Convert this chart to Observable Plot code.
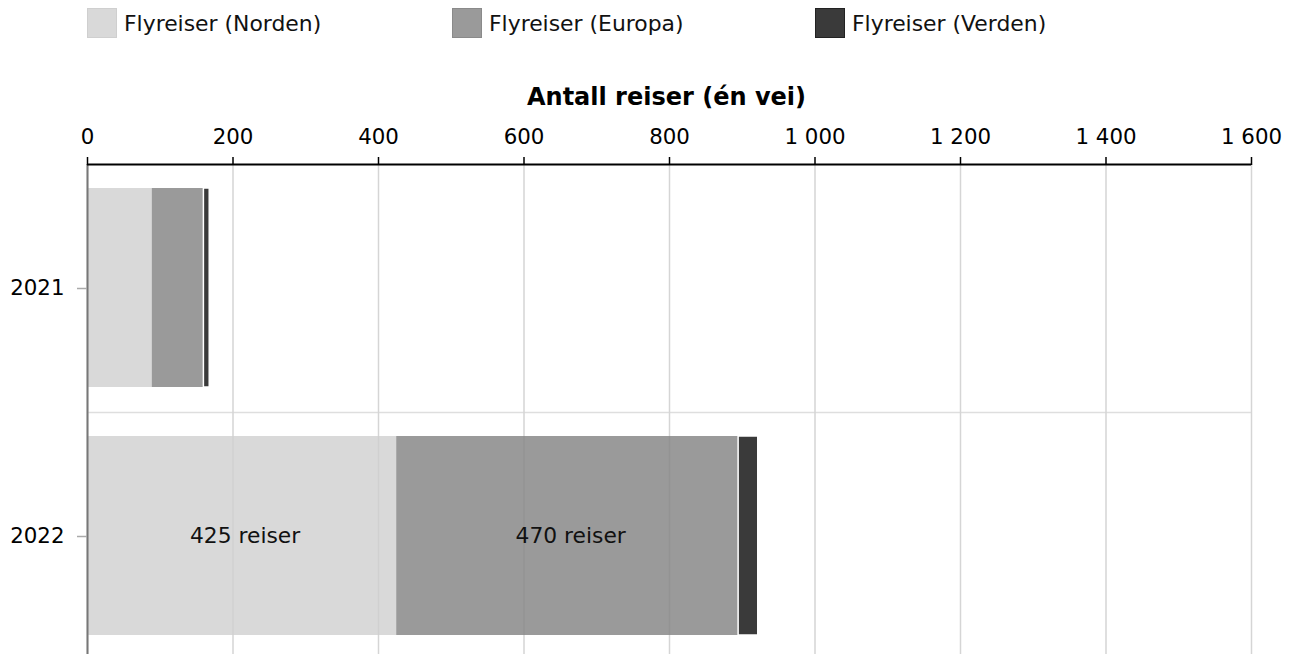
<!DOCTYPE html>
<html>
<head>
<meta charset="utf-8">
<script src="https://cdn.jsdelivr.net/npm/d3@7"></script>
<script src="https://cdn.jsdelivr.net/npm/@observablehq/plot@0.6"></script>
<style>
  html, body { margin: 0; padding: 0; background: white; overflow: hidden; }
  body { width: 1299px; height: 654px; font-family: "DejaVu Sans", Verdana, sans-serif; }
  #legend { position: relative; height: 46px; }
  .item { position: absolute; top: 8px; display: flex; align-items: center; height: 30px; font-size: 21.9px; color: #111; white-space: nowrap; }
  .sw { width: 28px; height: 28px; border: 1px solid; margin-right: 7px; }
  #chart svg { display: block; }
</style>
</head>
<body>
<div id="legend"></div>
<div id="chart"></div>
<script>
const years = ["2021", "2022"];
const regions = ["Flyreiser (Norden)", "Flyreiser (Europa)", "Flyreiser (Verden)"];
const norden = [89, 425];
const europa = [71, 470];
const verden = [8, 27];
const colors = ["#d9d9d9", "#9a9a9a", "#3a3a3a"];
const borders = ["#cfcfcf", "#8a8a8a", "#222222"];
const xTicks = [0, 200, 400, 600, 800, 1000, 1200, 1400, 1600];
const xTitle = "Antall reiser (én vei)";
const labelUnit = "reiser";
const labelMin = 300;

const series = [norden, europa, verden];
const data = [];
years.forEach((y, i) => regions.forEach((r, j) => data.push({year: y, region: r, value: series[j][i]})));

// legend
const legend = document.getElementById("legend");
const legendX = [87, 452, 815];
regions.forEach((r, j) => {
  const it = document.createElement("div");
  it.className = "item";
  it.style.left = legendX[j] + "px";
  const sw = document.createElement("div");
  sw.className = "sw";
  sw.style.background = colors[j];
  sw.style.borderColor = borders[j];
  it.appendChild(sw);
  const t = document.createElement("span");
  t.textContent = r;
  it.appendChild(t);
  legend.appendChild(it);
});

const width = 1299, height = 614;
const marginTop = 118, marginBottom = 0, marginLeft = 87, marginRight = 48;
const step = (height - marginTop - marginBottom) / years.length;
const fmt = d => d3.format(",")(d).replace(/,/g, " ");

const chart = Plot.plot({
  width, height, marginTop, marginBottom, marginLeft, marginRight,
  style: {fontFamily: "DejaVu Sans, Verdana, sans-serif", fontSize: "21.33px", color: "black", background: "white"},
  x: {domain: [0, 1600]},
  y: {domain: years, padding: 0},
  color: {domain: regions, range: colors},
  marks: [
    Plot.gridX(xTicks, {stroke: "#dedede", strokeOpacity: 1, strokeWidth: 1.5}),
    Plot.ruleY([years[0]], {dy: step / 2, stroke: "#dedede", strokeWidth: 1.5}),
    Plot.barX(data, Plot.stackX({
      x: "value", y: "year", fill: "region",
      stroke: d => d.region === regions[2] ? "white" : "none",
      strokeWidth: 1.5,
      insetTop: 24, insetBottom: 25
    })),
    Plot.gridX(xTicks, {stroke: "black", strokeOpacity: 0.04, strokeWidth: 1.5}),
    Plot.text(data, Plot.stackX({
      x: "value", y: "year", z: "region",
      text: d => d.value >= labelMin ? `${d.value} ${labelUnit}` : "",
      fill: "#111", fontSize: 21.8, dx: 3
    })),
    Plot.ruleX([0], {stroke: "#777", strokeWidth: 2}),
    Plot.ruleY([years[0]], {dy: -step / 2, stroke: "black", strokeWidth: 2}),
    Plot.axisX(xTicks, {anchor: "top", tickSize: 8, tickPadding: 13, strokeWidth: 1.5, tickFormat: fmt, label: null, fontSize: 21.33}),
    Plot.axisY({tickSize: 10, tickPadding: 13, stroke: "#aaa", fill: "black", strokeWidth: 1.5, label: null, fontSize: 21.33}),
    Plot.text([xTitle], {frameAnchor: "top", dy: -77, dx: -3, fontWeight: "bold", fontSize: 24})
  ]
});
document.getElementById("chart").appendChild(chart);
</script>
</body>
</html>
